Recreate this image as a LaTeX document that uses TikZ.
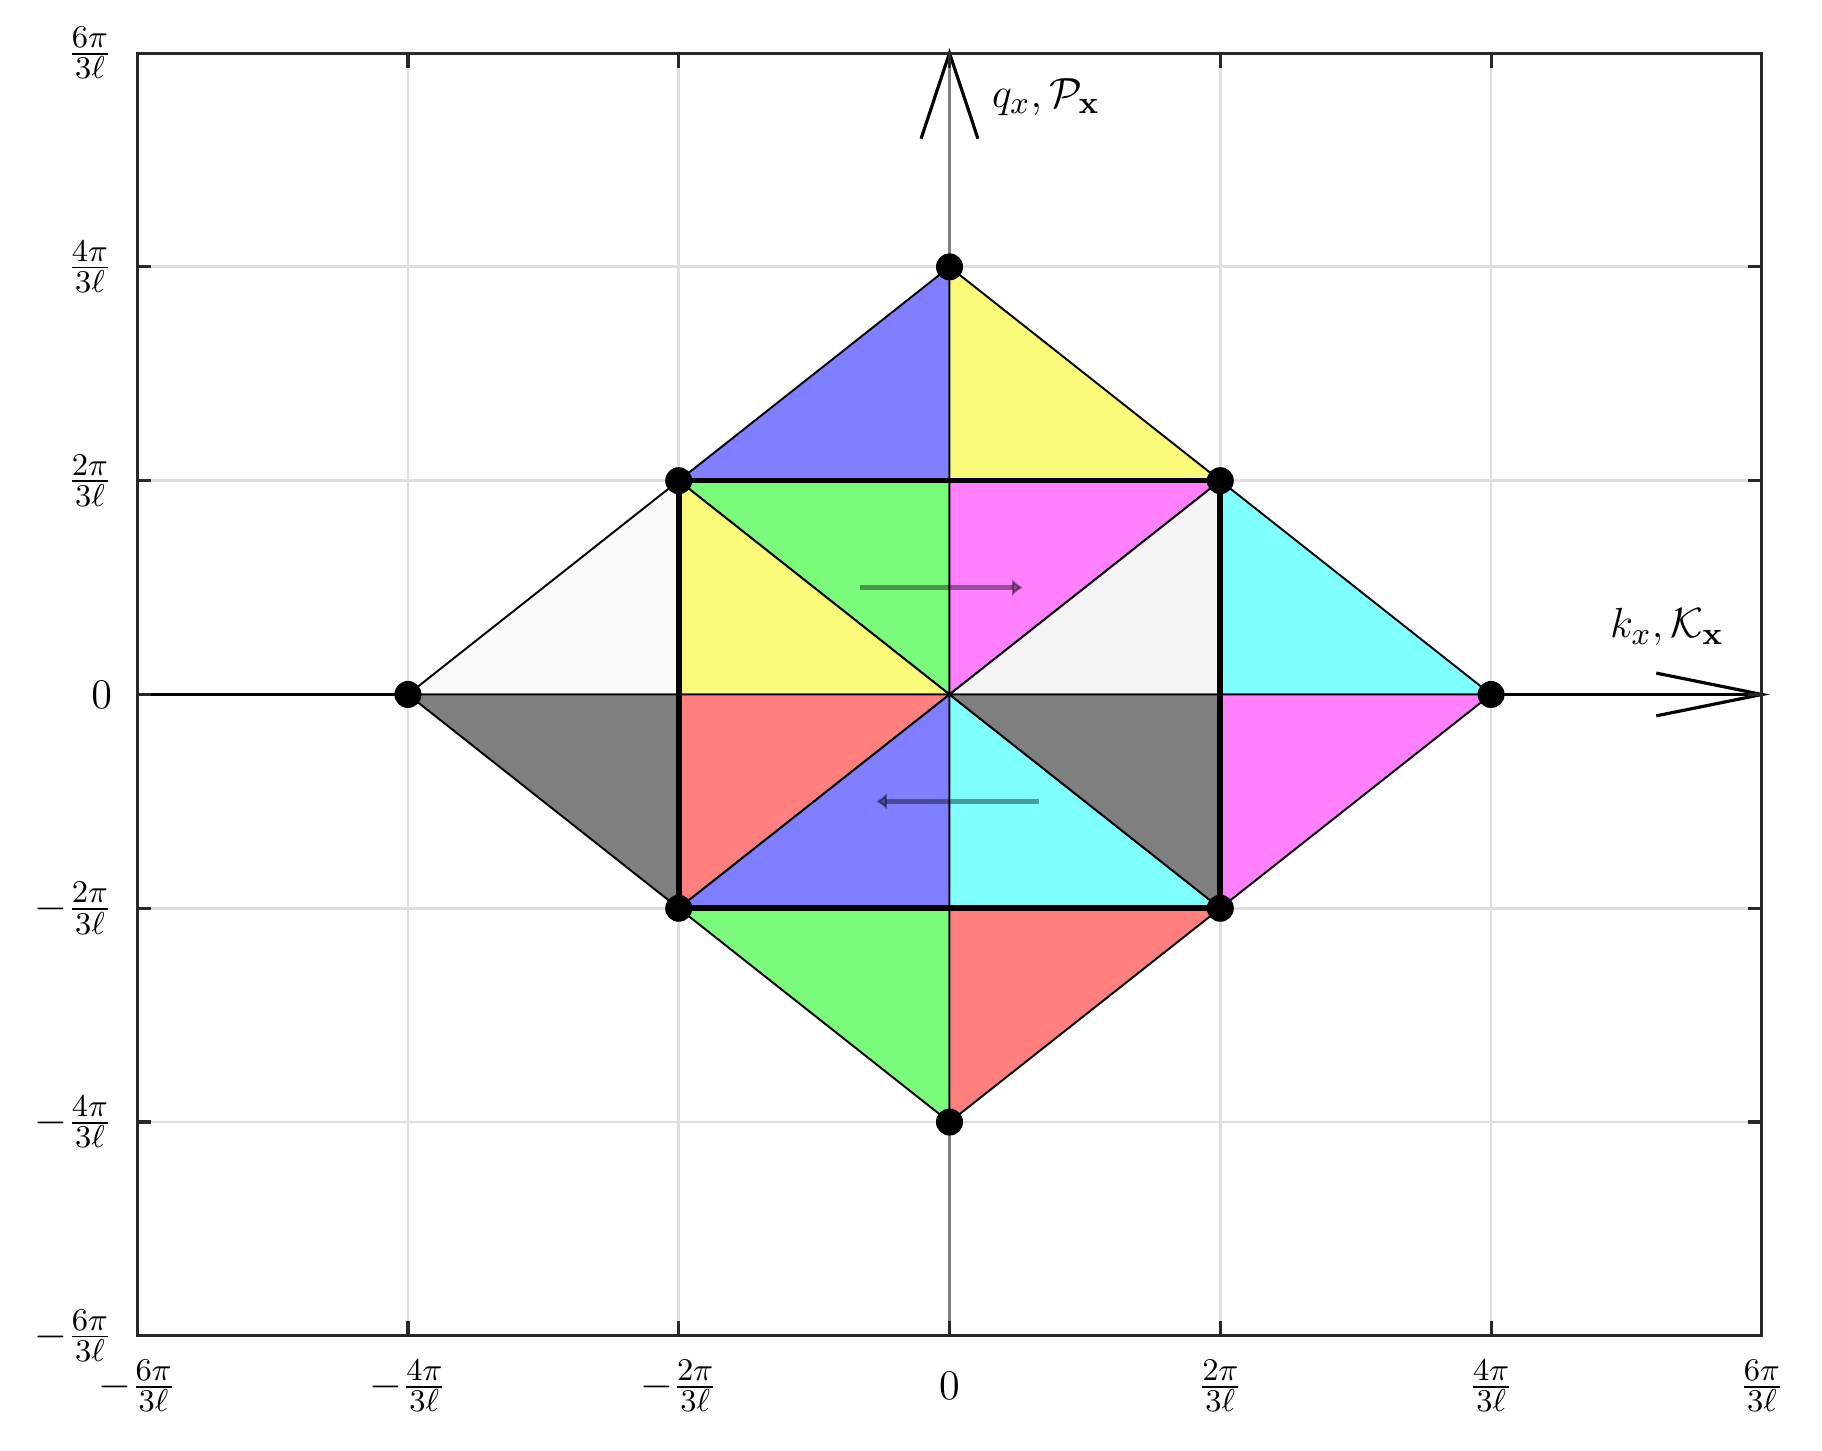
\documentclass[tikz,border=0pt]{standalone}
\usepackage{amsmath}
\usepackage{amssymb}
\usepackage{tikz}
\usetikzlibrary{arrows.meta}
\definecolor{tblue}{RGB}{127,127,255}
\definecolor{tyellow}{RGB}{250,250,122}
\definecolor{tgreen}{RGB}{122,250,122}
\definecolor{tmagenta}{RGB}{255,127,255}
\definecolor{tcyan}{RGB}{127,255,255}
\definecolor{tred}{RGB}{255,127,127}
\definecolor{tgray}{RGB}{127,127,127}
\definecolor{twhite}{RGB}{250,250,250}
\definecolor{tsmoke}{RGB}{244,244,244}
\definecolor{gridgray}{RGB}{222,222,222}
\definecolor{axisgray}{RGB}{128,128,128}
\definecolor{framecol}{RGB}{40,40,40}
\tikzstyle{tri} = [draw=black, line width=0.55pt, line join=round]
\tikzstyle{gridline} = [color=gridgray, line width=0.8pt]
\tikzstyle{tick} = [color=framecol, line width=0.9pt]
\tikzstyle{dot} = [circle, fill=black, inner sep=0pt, minimum size=0.27cm]
\tikzstyle{ticklab} = [inner sep=0pt]
\tikzstyle{flow} = [line width=1.6pt, black, opacity=0.4, -{Latex[length=3pt,width=5pt]}]

\begin{document}
\begin{tikzpicture}[x=1.354cm, y=1.069cm, font=\fontsize{13}{15}\selectfont]
\useasboundingbox (-7.013,-7.077) rectangle (6.444,6.497);

% grid
\foreach \v in {-4,-2,2,4} {
    \draw[gridline] (\v,-6) -- (\v,6);
    \draw[gridline] (-6,\v) -- (6,\v);
}

% axes
\draw[line width=0.8pt] (-6,0) -- (6,0);
\draw[axisgray, line width=1.1pt] (0,-6) -- (0,6);

% top triangles
\filldraw[tri, fill=tblue] (-2,2) -- (0,4) -- (0,2) -- cycle;
\filldraw[tri, fill=tyellow] (0,4) -- (2,2) -- (0,2) -- cycle;

% upper half of the square
\filldraw[tri, fill=tgreen] (-2,2) -- (0,2) -- (0,0) -- cycle;
\filldraw[tri, fill=tyellow] (-2,2) -- (-2,0) -- (0,0) -- cycle;
\filldraw[tri, fill=tmagenta] (0,2) -- (2,2) -- (0,0) -- cycle;
\filldraw[tri, fill=tsmoke] (2,2) -- (2,0) -- (0,0) -- cycle;

% left and right triangles
\filldraw[tri, fill=twhite] (-4,0) -- (-2,2) -- (-2,0) -- cycle;
\filldraw[tri, fill=tgray] (-4,0) -- (-2,0) -- (-2,-2) -- cycle;
\filldraw[tri, fill=tcyan] (2,2) -- (4,0) -- (2,0) -- cycle;
\filldraw[tri, fill=tmagenta] (2,0) -- (4,0) -- (2,-2) -- cycle;

% lower half of the square
\filldraw[tri, fill=tred] (-2,0) -- (0,0) -- (-2,-2) -- cycle;
\filldraw[tri, fill=tblue] (-2,-2) -- (0,0) -- (0,-2) -- cycle;
\filldraw[tri, fill=tcyan] (0,0) -- (0,-2) -- (2,-2) -- cycle;
\filldraw[tri, fill=tgray] (0,0) -- (2,0) -- (2,-2) -- cycle;

% bottom triangles
\filldraw[tri, fill=tgreen] (-2,-2) -- (0,-2) -- (0,-4) -- cycle;
\filldraw[tri, fill=tred] (0,-2) -- (2,-2) -- (0,-4) -- cycle;

% square
\draw[line width=1.6pt] (-2,-2) rectangle (2,2);

% shifts
\draw[flow] (-0.66,1) -- (0.54,1);
\draw[flow] (0.66,-1) -- (-0.54,-1);

% axis heads
\draw[line width=0.9pt] (-0.21,5.2) -- (0,6) -- (0.21,5.2);
\draw[line width=0.9pt] (5.22,0.2) -- (6,0) -- (5.22,-0.2);

% corners
\node[dot] (ptop) at (0,4) {};
\node[dot] (pbot) at (0,-4) {};
\node[dot] (pleft) at (-4,0) {};
\node[dot] (pright) at (4,0) {};
\node[dot] (pul) at (-2,2) {};
\node[dot] (pur) at (2,2) {};
\node[dot] (pll) at (-2,-2) {};
\node[dot] (plr) at (2,-2) {};

% frame and ticks
\draw[framecol, line width=0.9pt] (-6,-6) rectangle (6,6);
\foreach \v in {-4,-2,0,2,4} {
    \draw[tick] (\v,-6) -- (\v,-5.86);
    \draw[tick] (\v,6) -- (\v,5.86);
    \draw[tick] (-6,\v) -- (-5.9,\v);
    \draw[tick] (6,\v) -- (5.9,\v);
}

% tick labels
\foreach \v/\lab [count=\i] in {-6/{-\frac{6\pi}{3\ell}},-4/{-\frac{4\pi}{3\ell}},-2/{-\frac{2\pi}{3\ell}},0/{0},2/{\frac{2\pi}{3\ell}},4/{\frac{4\pi}{3\ell}},6/{\frac{6\pi}{3\ell}}} {
    \node[ticklab] (xlab\i) at (\v,-6.47) {$\lab$};
    \node[ticklab, anchor=east] (ylab\i) at (-6.18,\v) {$\lab$};
}

% axis labels
\node[anchor=west, inner sep=0pt] (qlab) at (0.31,5.59) {$q_x, \mathcal{P}_{\mathbf{x}}$};
\node[inner sep=0pt] (klab) at (5.3,0.63) {$k_x, \mathcal{K}_{\mathbf{x}}$};
\end{tikzpicture}
\end{document}
